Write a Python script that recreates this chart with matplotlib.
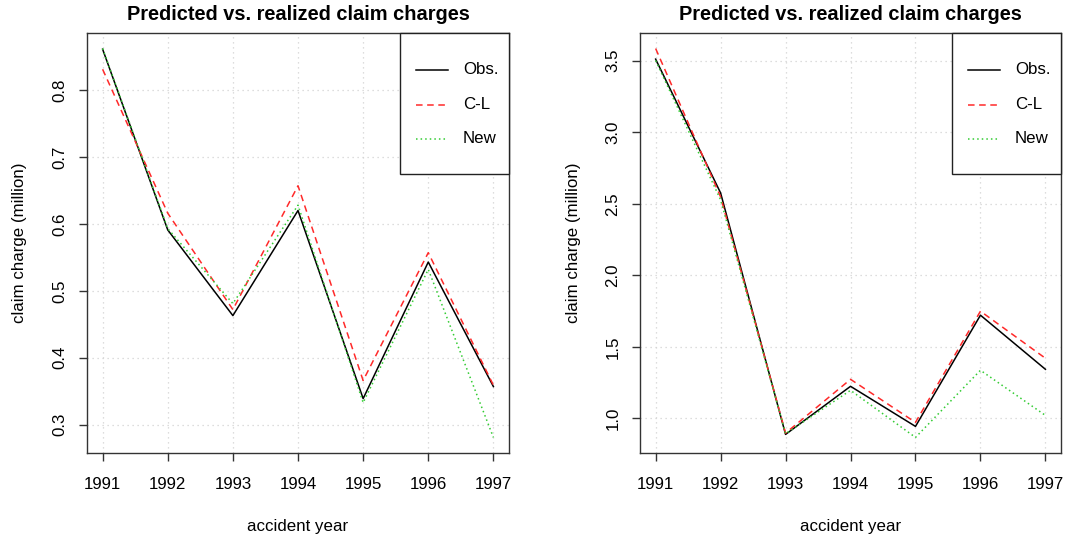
import numpy as np
import matplotlib
matplotlib.use("Agg")
import matplotlib.pyplot as plt
from matplotlib.patches import Rectangle
from matplotlib.lines import Line2D

plt.rcParams['font.family'] = ['Liberation Sans', 'DejaVu Sans']

# Datos
years = [1991, 1992, 1993, 1994, 1995, 1996, 1997]

obs_left = [0.861, 0.591, 0.463, 0.620, 0.339, 0.543, 0.357]
cl_left = [0.831, 0.616, 0.472, 0.657, 0.366, 0.557, 0.359]
new_left = [0.862, 0.593, 0.481, 0.628, 0.333, 0.532, 0.281]

obs_right = [3.51, 2.575, 0.888, 1.224, 0.944, 1.721, 1.343]
cl_right = [3.584, 2.548, 0.897, 1.273, 0.972, 1.749, 1.420]
new_right = [3.50, 2.527, 0.893, 1.196, 0.867, 1.336, 1.021]

yticks_left = [0.3, 0.4, 0.5, 0.6, 0.7, 0.8]
yticks_right = [1.0, 1.5, 2.0, 2.5, 3.0, 3.5]

labels = ["Obs.", "C-L", "New"]
colors = ["black", "#ff2a2a", "#33cc33"]
styles = ["-", (0, (4.3, 3)), (0, (1, 2))]

title = "Predicted vs. realized claim charges"
fs = 12.2


def panel(ax, series, yticks):
    for y, c, ls in zip(series, colors, styles):
        ax.plot(years, y, color=c, linestyle=ls, linewidth=1.1)

    # rango al estilo R (4% de margen)
    allv = np.concatenate([np.asarray(s) for s in series])
    lo, hi = allv.min(), allv.max()
    pad = 0.04 * (hi - lo)
    ax.set_ylim(lo - pad, hi + pad)
    ax.set_xlim(years[0] - 0.04 * 6, years[-1] + 0.04 * 6)

    ax.set_xticks(years)
    ax.set_yticks(yticks)
    ax.set_yticklabels([f"{v:.1f}" for v in yticks])
    for lab in ax.get_yticklabels():
        lab.set_rotation(90)
        lab.set_va('center')
    ax.tick_params(axis='both', length=6, width=1, color='#333333',
                   labelsize=fs, direction='out')
    ax.tick_params(axis='x', pad=11)
    ax.tick_params(axis='y', pad=8)

    ax.grid(True, linestyle=(0, (1, 3)), color='lightgray', linewidth=0.9)
    ax.set_axisbelow(True)
    for sp in ax.spines.values():
        sp.set_color('#333333')
        sp.set_linewidth(1.0)

    ax.set_xlabel("accident year", fontsize=fs)
    ax.xaxis.set_label_coords(0.5, -0.176)
    ax.xaxis.label.set_va('center')
    ax.set_ylabel("claim charge (million)", fontsize=fs)
    ax.yaxis.set_label_coords(-0.159, 0.5)
    ax.yaxis.label.set_va('center')

    ax.text(0.5, 1.043, title, transform=ax.transAxes, ha='center',
            va='center', fontsize=14.4, fontweight='bold')

    # leyenda dibujada como en R
    x0, y0 = 0.742, 0.664
    ax.add_patch(Rectangle((x0, y0), 1 - x0, 1 - y0, transform=ax.transAxes,
                           facecolor='white', edgecolor='#222222',
                           linewidth=1.0, zorder=5, clip_on=False))
    rows = [0.912, 0.829, 0.748]
    for yy, lab, c, ls in zip(rows, labels, colors, styles):
        ax.add_line(Line2D([0.780, 0.855], [yy, yy], transform=ax.transAxes,
                           color=c, linestyle=ls, linewidth=1.1, zorder=6))
        ax.text(0.891, yy, lab, transform=ax.transAxes, ha='left',
                va='center', fontsize=fs, zorder=6)


fig = plt.figure(figsize=(10.9, 5.39), dpi=100)
ax1 = fig.add_axes([0.0798, 0.1596, 0.3872, 0.7792])
ax2 = fig.add_axes([0.5872, 0.1596, 0.3862, 0.7792])

panel(ax1, [obs_left, cl_left, new_left], yticks_left)
panel(ax2, [obs_right, cl_right, new_right], yticks_right)

fig.savefig("out.png", dpi=100)
